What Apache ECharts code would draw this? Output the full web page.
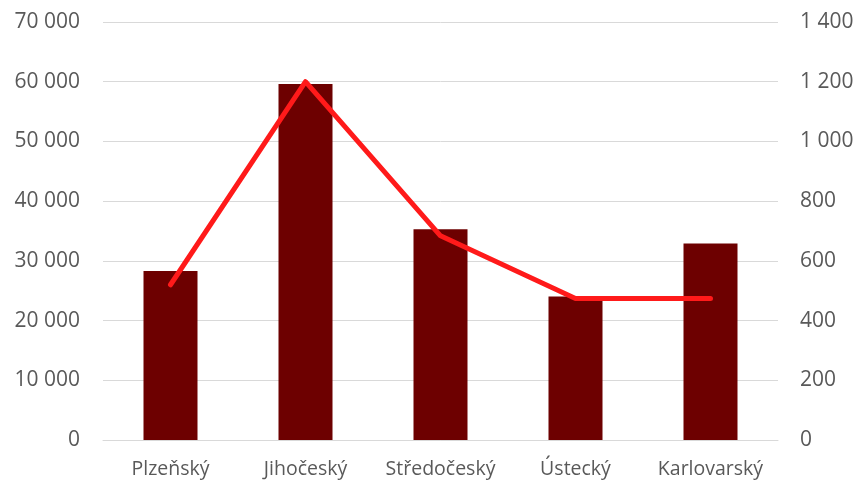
<!DOCTYPE html>
<html><head><meta charset="utf-8">
<script src="https://cdn.jsdelivr.net/npm/echarts@6/dist/echarts.min.js"></script>
<style>html,body{margin:0;padding:0;background:#fff}#c{width:857px;height:484px}</style>
</head><body><div id="c"></div>
<script>
const categories = ['Plzeňský','Jihočeský','Středočeský','Ústecký','Karlovarský'];
const barValues = [28300, 59600, 35300, 24050, 32900];
const lineValues = [520, 1200, 684, 474, 474];
const leftTicks = {min:0, max:70000, interval:10000};
const rightTicks = {min:0, max:1400, interval:200};

function fmt(v){ return String(v).replace(/\B(?=(\d{3})+(?!\d))/g, ' '); }
const font = 'Open Sans';
const chart = echarts.init(document.getElementById('c'));
chart.setOption({
  animation:false,
  grid:{left:103, right:79, top:22, bottom:44},
  xAxis:{type:'category', data:categories,
    axisLine:{lineStyle:{color:'#d9d9d9', width:1}}, axisTick:{show:false},
    axisLabel:{color:'#595959', fontFamily:font, fontSize:19.5, margin:19, interval:0, hideOverlap:false}},
  yAxis:[
    {type:'value', min:leftTicks.min, max:leftTicks.max, interval:leftTicks.interval,
     axisLine:{show:false}, axisTick:{show:false},
     splitLine:{lineStyle:{color:'#d9d9d9', width:1}},
     axisLabel:{color:'#595959', fontFamily:font, fontSize:21, margin:23, formatter:fmt}},
    {type:'value', min:rightTicks.min, max:rightTicks.max, interval:rightTicks.interval,
     axisLine:{show:false}, axisTick:{show:false}, splitLine:{show:false},
     axisLabel:{color:'#595959', fontFamily:font, fontSize:21, margin:22, formatter:fmt}}
  ],
  series:[
    {type:'bar', data:barValues, barWidth:'40%', itemStyle:{color:'#6d0000'}},
    {type:'line', yAxisIndex:1, data:lineValues, symbol:'none',
     lineStyle:{color:'#ff1a1a', width:5, cap:'round', join:'round'}}
  ]
});
</script></body></html>
